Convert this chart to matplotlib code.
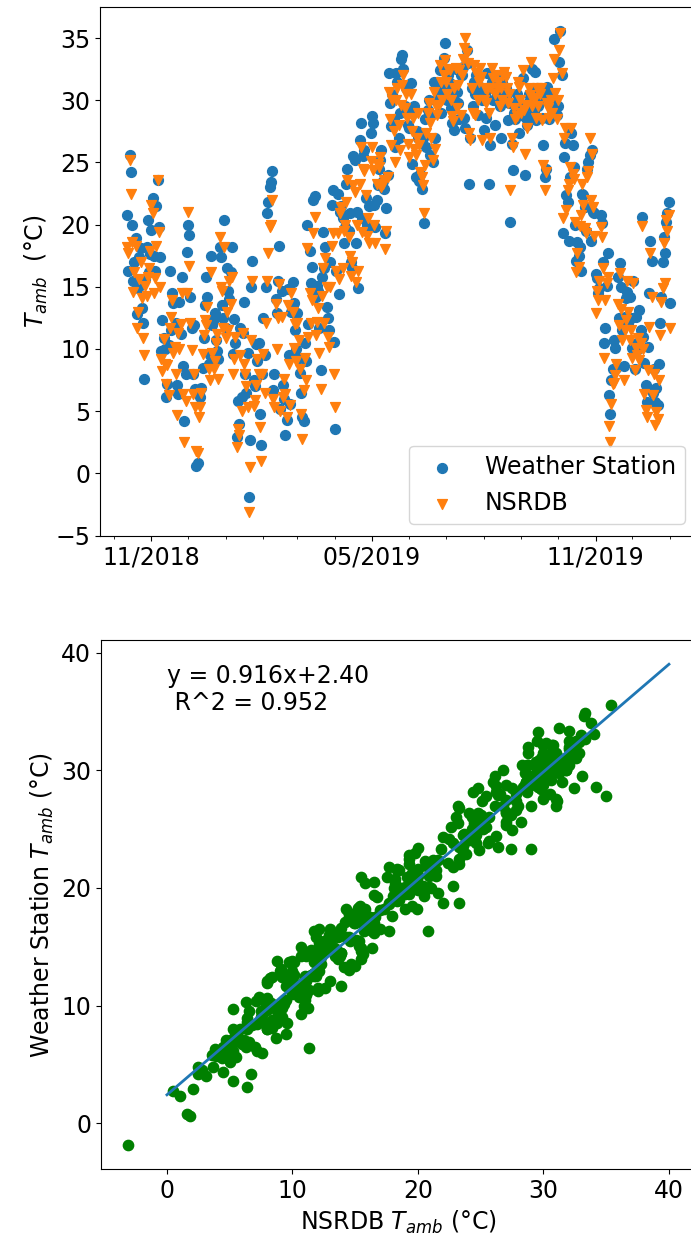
import numpy as np
import pandas as pd
import matplotlib
matplotlib.use('Agg')
import matplotlib.pyplot as plt
import matplotlib.dates as mdates

# Daily ambient temperature (°C), one value per day starting 2018-10-12
nsrdb = [
    18.2, 17.7, 25.2, 22.5, 18.6,
    14.6, 16.2, 18.3, 11.7, 13.0,
    15.6, 17.0, 14.1, 10.9, 9.5,
    15.1, 14.3, 15.8, 16.5, 17.9,
    21.6, 20.9, 14.5, 15.7, 18.3,
    23.6, 19.4, 15.0, 9.2, 8.2,
    10.8, 8.8, 7.2, 8.7, 6.3,
    11.7, 12.6, 13.9, 9.7, 10.2,
    8.0, 4.7, 11.3, 10.0, 12.0,
    14.5, 6.4, 2.5, 5.8, 14.5,
    21.0, 16.7, 12.1, 9.9, 6.4,
    8.0, 5.3, 1.8, 1.6, 4.5,
    5.3, 6.5, 9.6, 11.1, 12.3,
    11.9, 13.4, 8.4, 7.5, 16.2,
    9.7, 8.4, 9.0, 10.5, 11.2,
    7.6, 19.0, 15.0, 14.7, 11.7,
    18.2, 10.9, 13.0, 11.5, 15.5,
    13.6, 15.8, 8.0, 9.2, 11.0,
    2.1, 3.6, 3.1, 9.5, 5.0,
    11.3, 8.8, 8.0, 7.0, 5.3,
    -3.1, 0.5, 10.7, 15.5, 5.4,
    5.9, 7.1, 9.2, 8.0, 3.7,
    1.0, 8.0, 9.6, 6.5, 12.1,
    15.5, 17.7, 19.8, 20.0, 22.0,
    6.0, 5.3, 13.6, 10.0, 12.5,
    15.2, 5.0, 12.6, 6.1, 7.6,
    6.4, 4.5, 13.5, 8.8, 5.5,
    14.5, 13.0, 10.1, 12.0, 9.0,
    12.1, 10.7, 8.4, 4.8, 2.8,
    6.7, 9.3, 7.5, 18.1, 11.0,
    14.5, 12.1, 13.9, 19.3, 20.6,
    11.1, 12.2, 13.3, 9.7, 6.8,
    14.3, 16.5, 12.1, 17.3, 15.0,
    11.0, 10.2, 15.0, 18.3, 19.3,
    8.0, 5.3, 16.3, 19.3, 15.6,
    20.9, 21.4, 16.5, 19.5, 20.0,
    21.8, 23.6, 19.0, 17.5, 15.9,
    17.0, 23.2, 22.6, 15.4, 20.0,
    16.3, 23.3, 26.2, 19.4, 24.5,
    24.3, 22.4, 19.1, 20.5, 18.5,
    25.1, 26.2, 24.4, 20.0, 18.5,
    23.3, 24.9, 24.6, 25.4, 23.0,
    23.3, 23.6, 18.0, 19.5, 23.8,
    30.7, 28.5, 26.4, 30.0, 27.5,
    25.0, 30.0, 31.0, 28.0, 26.0,
    29.6, 31.2, 32.0, 29.4, 30.5,
    28.6, 26.5, 25.4, 30.5, 27.5,
    28.6, 26.1, 25.6, 27.0, 29.0,
    26.4, 24.2, 23.8, 23.2, 20.9,
    24.8, 27.4, 29.0, 29.8, 28.2,
    27.0, 25.2, 30.7, 26.1, 29.5,
    28.8, 29.6, 32.8, 31.5, 30.0,
    32.0, 33.2, 31.5, 30.5, 32.5,
    32.4, 30.0, 28.7, 28.3, 31.0,
    32.6, 29.4, 31.2, 32.4, 28.8,
    32.0, 33.3, 34.2, 35.0, 33.8,
    33.0, 27.4, 26.8, 31.0, 29.0,
    32.8, 28.8, 32.2, 30.0, 31.5,
    32.6, 31.9, 26.8, 30.0, 31.0,
    29.8, 30.8, 29.0, 27.0, 31.0,
    32.6, 31.8, 30.5, 32.0, 31.0,
    31.5, 29.5, 31.0, 30.0, 32.0,
    32.3, 31.9, 31.0, 29.8, 30.5,
    22.8, 27.0, 26.2, 29.4, 28.5,
    28.7, 31.5, 31.1, 30.0, 29.0,
    32.4, 29.2, 25.7, 29.6, 27.8,
    31.0, 30.4, 33.1, 29.5, 30.0,
    30.2, 28.6, 31.0, 29.5, 30.5,
    31.0, 28.4, 24.8, 22.8, 24.2,
    29.8, 29.4, 28.6, 30.0, 29.0,
    31.8, 33.3, 30.6, 28.5, 30.0,
    34.0, 35.4, 32.2, 20.5, 27.0,
    27.8, 21.2, 22.8, 23.3, 24.6,
    27.8, 24.1, 23.7, 20.2, 16.2,
    17.7, 16.6, 19.9, 20.8, 23.3,
    21.6, 19.7, 19.3, 23.8, 24.3,
    27.0, 22.0, 25.7, 21.4, 19.1,
    12.9, 14.7, 13.9, 15.5, 19.8,
    19.0, 16.5, 9.3, 13.9, 15.3,
    15.8, 3.8, 2.5, 5.6, 7.2,
    7.3, 7.9, 8.8, 13.6, 11.9,
    16.1, 13.2, 10.7, 7.5, 11.5,
    12.3, 15.5, 13.0, 10.7, 11.5,
    9.3, 15.3, 8.3, 10.1, 9.5,
    10.9, 9.1, 10.5, 19.9, 10.0,
    6.4, 5.1, 4.5, 8.3, 11.8,
    17.7, 14.2, 6.3, 8.0, 3.9,
    4.9, 4.4, 7.5, 11.1, 13.8,
    14.9, 18.5, 15.3, 20.4, 19.5,
    20.8, 11.7,
]

station = [
    20.8, 16.3, 25.6, 24.2, 20.0,
    15.5, 17.0, 18.9, 12.8, 14.9,
    17.4, 18.1, 13.3, 12.1, 7.6,
    15.6, 18.2, 20.4, 16.2, 17.6,
    19.6, 22.1, 17.5, 16.3, 21.5,
    23.6, 19.8, 17.4, 9.8, 12.3,
    10.9, 10.0, 6.1, 7.2, 10.3,
    16.3, 11.5, 14.5, 13.7, 11.8,
    12.1, 7.1, 6.4, 13.8, 11.2,
    15.8, 8.6, 4.2, 8.0, 17.8,
    20.0, 19.2, 14.2, 11.7, 8.0,
    11.9, 6.8, 0.6, 0.8, 6.5,
    6.1, 6.9, 8.5, 10.9, 13.5,
    15.8, 14.2, 8.8, 9.5, 17.5,
    11.9, 12.4, 12.9, 10.7, 9.8,
    9.2, 18.2, 17.4, 13.5, 12.5,
    20.4, 11.7, 16.5, 14.7, 14.0,
    16.2, 18.2, 9.6, 12.4, 10.5,
    2.9, 5.8, 4.0, 11.7, 6.1,
    11.3, 13.8, 8.0, 6.5, 9.7,
    -1.9, 2.7, 15.0, 17.1, 7.5,
    7.0, 10.4, 9.0, 10.5, 4.8,
    2.3, 8.0, 12.5, 9.5, 15.0,
    20.9, 21.8, 23.0, 23.4, 24.3,
    6.7, 8.0, 14.0, 12.9, 15.5,
    18.3, 5.2, 14.7, 7.1, 6.0,
    3.1, 4.3, 14.8, 9.5, 5.6,
    13.0, 15.4, 13.7, 11.5, 10.0,
    12.9, 9.3, 8.1, 6.5, 4.5,
    4.2, 10.5, 9.0, 20.0, 12.0,
    17.9, 15.3, 16.6, 22.0, 22.3,
    14.2, 15.1, 14.7, 11.7, 8.3,
    15.8, 19.4, 16.5, 18.2, 13.4,
    12.5, 11.5, 17.0, 21.6, 22.8,
    10.6, 3.6, 16.3, 22.5, 14.4,
    21.0, 21.5, 20.5, 18.5, 19.8,
    23.3, 24.5, 19.5, 20.9, 17.0,
    16.5, 25.5, 25.2, 18.5, 21.0,
    14.9, 26.8, 28.2, 20.5, 25.5,
    26.0, 22.1, 20.0, 19.7, 21.5,
    27.4, 28.7, 28.2, 21.6, 19.8,
    22.0, 23.2, 24.5, 25.2, 26.0,
    23.5, 22.9, 19.3, 21.3, 24.0,
    32.2, 29.8, 27.9, 30.5, 28.5,
    26.2, 32.2, 31.5, 27.0, 29.0,
    33.3, 33.6, 32.5, 29.5, 31.0,
    29.0, 28.0, 27.8, 31.4, 24.9,
    29.0, 29.5, 23.8, 27.5, 27.0,
    23.5, 24.1, 22.9, 27.0, 20.1,
    28.5, 26.2, 29.2, 30.0, 25.6,
    28.8, 25.0, 31.5, 27.0, 30.0,
    31.5, 30.8, 32.4, 29.0, 30.2,
    33.4, 34.6, 31.0, 30.0, 32.0,
    31.4, 29.4, 28.2, 30.5, 27.6,
    32.5, 30.7, 29.8, 28.5, 32.0,
    32.0, 32.7, 28.6, 27.8, 34.0,
    33.0, 23.3, 27.0, 31.0, 29.5,
    31.5, 30.5, 32.0, 28.8, 31.0,
    31.1, 30.7, 30.0, 27.6, 30.5,
    28.6, 32.2, 23.3, 26.4, 31.0,
    31.5, 30.0, 28.0, 31.8, 30.5,
    30.0, 29.5, 27.0, 31.5, 30.5,
    32.0, 31.0, 30.5, 28.4, 29.8,
    20.2, 26.5, 24.4, 29.0, 28.5,
    30.5, 30.2, 27.4, 29.8, 28.8,
    31.8, 29.0, 24.0, 28.6, 28.0,
    30.5, 30.0, 29.5, 32.5, 29.0,
    32.3, 28.4, 31.0, 29.5, 30.0,
    30.2, 28.6, 26.4, 23.8, 24.5,
    31.1, 30.7, 28.5, 30.0, 29.2,
    30.0, 34.9, 29.2, 28.8, 29.5,
    33.1, 35.6, 32.0, 19.3, 25.4,
    26.6, 22.4, 21.8, 18.7, 23.8,
    27.4, 26.4, 24.6, 20.0, 17.1,
    18.6, 17.5, 18.2, 16.3, 22.5,
    22.4, 21.4, 19.5, 24.5, 25.0,
    25.6, 18.7, 26.0, 21.0, 20.9,
    16.0, 15.7, 14.5, 14.9, 20.8,
    20.1, 17.0, 10.5, 11.7, 15.1,
    17.7, 6.3, 4.8, 7.5, 8.4,
    10.7, 10.1, 8.5, 15.8, 12.5,
    16.9, 15.0, 11.5, 8.6, 12.6,
    14.1, 14.6, 12.1, 14.2, 12.5,
    10.1, 15.5, 8.4, 12.6, 10.5,
    10.0, 13.1, 11.5, 20.6, 11.0,
    8.9, 7.1, 5.7, 10.2, 14.5,
    18.7, 17.1, 6.5, 8.4, 5.7,
    6.9, 5.5, 8.8, 12.1, 14.2,
    17.0, 19.0, 17.7, 20.2, 20.9,
    21.8, 13.7,
]

dates = pd.date_range('2018-10-12', periods=len(nsrdb), freq='D')

# linear fit of station vs NSRDB
slope, intercept, r2 = 0.916, 2.40, 0.952

plt.rcParams['font.size'] = 17

fig = plt.figure(figsize=(6.91, 12.45), dpi=100)

# time series
ax1 = fig.add_axes([100 / 691, 1 - 536 / 1245, 597 / 691, 529.5 / 1245])
ax1.scatter(dates, station, color='tab:blue', marker='o', s=50, label='Weather Station')
ax1.scatter(dates, nsrdb, color='tab:orange', marker='v', s=50, label='NSRDB')
ax1.xaxis.set_major_locator(mdates.MonthLocator(bymonth=[5, 11]))
ax1.xaxis.set_minor_locator(mdates.MonthLocator())
ax1.xaxis.set_major_formatter(mdates.DateFormatter('%m/%Y'))
ax1.set_yticks(np.arange(-5, 36, 5))
ax1.set_ylabel('$T_{amb}$  (°C)')
ax1.legend(loc='lower right')

# station vs NSRDB
ax2 = fig.add_axes([101 / 691, 1 - 1169.4 / 1245, 595 / 691, 529.2 / 1245])
ax2.scatter(nsrdb, station, color='green', s=55)
xfit = np.array([0, 40])
ax2.plot(xfit, slope * xfit + intercept, linewidth=2)
ax2.text(0, 36.9, f'y = {slope:.3f}x+{intercept:.2f}\n R^2 = {r2:.3f}',
         ha='left', va='center')
ax2.set_xticks([0, 10, 20, 30, 40])
ax2.set_yticks([0, 10, 20, 30, 40])
ax2.set_xlabel('NSRDB $T_{amb}$ (°C)')
ax2.set_ylabel('Weather Station $T_{amb}$ (°C)')

fig.savefig('out.png', dpi=100)
